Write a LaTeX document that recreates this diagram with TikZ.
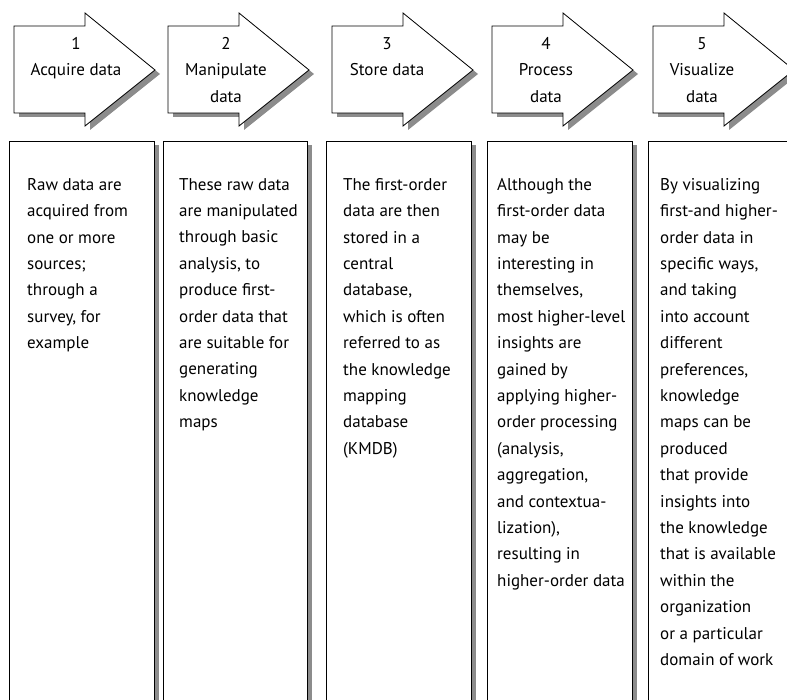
\documentclass[tikz,border=0pt]{standalone}
\usepackage{fontspec}
\setmainfont{PT Sans}
\begin{document}
\begin{tikzpicture}[x=1pt,y=-1pt,
	stepshape/.style={draw=black,fill=white,line width=0.8pt},
	stepshadow/.style={fill=black!45,shift={(5,4)}},
	headtext/.style={align=center,inner sep=0pt,anchor=north,font=\fontsize{17}{26.5}\selectfont},
	bodytext/.style={align=left,inner sep=0pt,anchor=north west,font=\fontsize{17}{26.4}\selectfont}]
	\useasboundingbox (0,0) rectangle (787,700);
	\clip (0,0) rectangle (787,700);
	
	% step arrows
	\fill[stepshadow] (14,26) -- ++(71,0) -- ++(0,-13) -- ++(70,57) -- ++(-70,56) -- ++(0,-13) -- ++(-71,0) -- cycle;
	\draw[stepshape] (14,26) -- ++(71,0) -- ++(0,-13) -- ++(70,57) -- ++(-70,56) -- ++(0,-13) -- ++(-71,0) -- cycle;
	\fill[stepshadow] (168,26) -- ++(71,0) -- ++(0,-13) -- ++(70,57) -- ++(-70,56) -- ++(0,-13) -- ++(-71,0) -- cycle;
	\draw[stepshape] (168,26) -- ++(71,0) -- ++(0,-13) -- ++(70,57) -- ++(-70,56) -- ++(0,-13) -- ++(-71,0) -- cycle;
	\fill[stepshadow] (332,26) -- ++(71,0) -- ++(0,-13) -- ++(70,57) -- ++(-70,56) -- ++(0,-13) -- ++(-71,0) -- cycle;
	\draw[stepshape] (332,26) -- ++(71,0) -- ++(0,-13) -- ++(70,57) -- ++(-70,56) -- ++(0,-13) -- ++(-71,0) -- cycle;
	\fill[stepshadow] (492,26) -- ++(71,0) -- ++(0,-13) -- ++(70,57) -- ++(-70,56) -- ++(0,-13) -- ++(-71,0) -- cycle;
	\draw[stepshape] (492,26) -- ++(71,0) -- ++(0,-13) -- ++(70,57) -- ++(-70,56) -- ++(0,-13) -- ++(-71,0) -- cycle;
	\fill[stepshadow] (653,26) -- ++(71,0) -- ++(0,-13) -- ++(70,57) -- ++(-70,56) -- ++(0,-13) -- ++(-71,0) -- cycle;
	\draw[stepshape] (653,26) -- ++(71,0) -- ++(0,-13) -- ++(70,57) -- ++(-70,56) -- ++(0,-13) -- ++(-71,0) -- cycle;
	
	\node[headtext] (head1) at (76,37) {1\\Acquire data};
	\node[headtext] (head2) at (226,37) {2\\Manipulate\\data};
	\node[headtext] (head3) at (387,37) {3\\Store data};
	\node[headtext] (head4) at (546,37) {4\\Process\\data};
	\node[headtext] (head5) at (702,37) {5\\Visualize\\data};
	
	% text columns
	\fill[stepshadow] (9,141) rectangle ++(145,600);
	\draw[stepshape] (9,141) rectangle ++(145,600);
	\fill[stepshadow] (163,141) rectangle ++(144,600);
	\draw[stepshape] (163,141) rectangle ++(144,600);
	\fill[stepshadow] (326,141) rectangle ++(145,600);
	\draw[stepshape] (326,141) rectangle ++(145,600);
	\fill[stepshadow] (487,141) rectangle ++(145,600);
	\draw[stepshape] (487,141) rectangle ++(145,600);
	\fill[stepshadow] (648,141) rectangle ++(145,600);
	\draw[stepshape] (648,141) rectangle ++(145,600);
	
	\node[bodytext] (body1) at (27,178) {Raw data are\\acquired from\\one or more\\sources;\\through a\\survey, for\\example};
	\node[bodytext] (body2) at (179,178) {These raw data\\are manipulated\\through basic\\analysis, to\\produce first-\\order data that\\are suitable for\\generating\\knowledge\\maps};
	\node[bodytext] (body3) at (343,178) {The first-order\\data are then\\stored in a\\central\\database,\\which is often\\referred to as\\the knowledge\\mapping\\database\\(KMDB)};
	\node[bodytext] (body4) at (497,178) {Although the\\first-order data\\may be\\interesting in\\themselves,\\most higher-level\\insights are\\gained by\\applying higher-\\order processing\\(analysis,\\aggregation,\\and contextua-\\lization),\\resulting in\\higher-order data};
	\node[bodytext] (body5) at (660,178) {By visualizing\\first-and higher-\\order data in\\specific ways,\\and taking\\into account\\different\\preferences,\\knowledge\\maps can be\\produced\\that provide\\insights into\\the knowledge\\that is available\\within the\\organization\\or a particular\\domain of work};
	
\end{tikzpicture}
\end{document}
